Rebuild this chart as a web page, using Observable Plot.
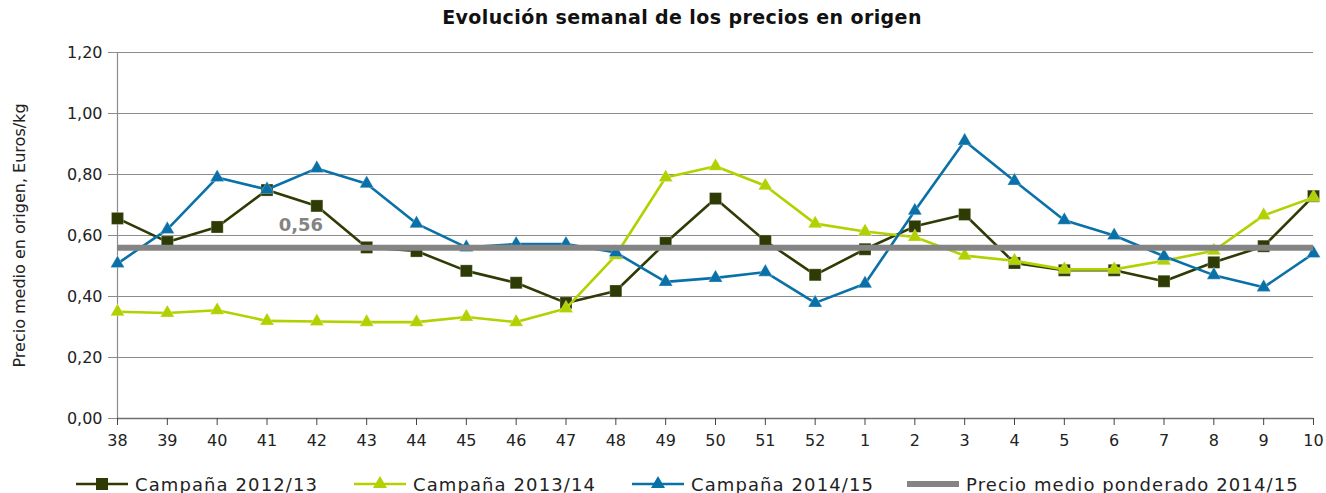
<!DOCTYPE html>
<html><head><meta charset="utf-8">
<script src="https://cdn.jsdelivr.net/npm/d3@7"></script>
<script src="https://cdn.jsdelivr.net/npm/@observablehq/plot@0.6"></script>
<style>
body{margin:0;background:#fff;font-family:"DejaVu Sans",sans-serif;}
#wrap{position:relative;width:1326px;height:493px;overflow:hidden;background:#fff}
#title{position:absolute;left:0;width:1364px;top:6px;text-align:center;font-weight:bold;font-size:19px;letter-spacing:0.4px;color:#111}
#chart{position:absolute;left:0;top:0}
.leg{position:absolute;top:473px;height:22px;display:flex;align-items:center;font-size:18px;letter-spacing:1.1px;color:#222;white-space:nowrap}
.leg svg{margin-right:7px}
</style></head>
<body><div id="wrap"><div id="chart"></div><div id="title">Evolución semanal de los precios en origen</div></div>
<script>
const weeks = ["38","39","40","41","42","43","44","45","46","47","48","49","50","51","52","1","2","3","4","5","6","7","8","9","10"];
const c1213 = [0.656,0.579,0.628,0.749,0.697,0.561,0.549,0.484,0.445,0.379,0.418,0.576,0.721,0.582,0.471,0.555,0.630,0.669,0.510,0.486,0.486,0.450,0.512,0.565,0.729];
const c1314 = [0.350,0.346,0.355,0.320,0.318,0.316,0.316,0.333,0.316,0.361,0.535,0.790,0.827,0.763,0.639,0.613,0.595,0.534,0.517,0.489,0.489,0.517,0.550,0.666,0.725];
const c1415 = [0.508,0.620,0.790,0.751,0.820,0.770,0.639,0.561,0.572,0.572,0.544,0.448,0.461,0.480,0.379,0.442,0.681,0.910,0.779,0.650,0.600,0.532,0.470,0.430,0.541];
const avg1415 = 0.56;
const yTicks = [0,0.2,0.4,0.6,0.8,1.0,1.2];
const seriesNames = ["Campaña 2012/13","Campaña 2013/14","Campaña 2014/15","Precio medio ponderado 2014/15"];

const colors = ["#2E3B05","#B3D100","#0A71A8","#848484"];
const symbols = ["square","triangle","triangle"];
const radii = [6.8,5.2,5.2];
const vals = [c1213,c1314,c1415];

const fmt = d => d.toFixed(2).replace(".", ",");
const W = 1326, ML = 117, MR = 13;
const idx = d3.range(weeks.length);

const marks = [
  Plot.gridY(yTicks, {stroke:"#8c8c8c", strokeOpacity:1, strokeWidth:1.2}),
  Plot.ruleX([0], {stroke:"#8c8c8c", strokeWidth:1.2}),
  Plot.ruleY([0], {stroke:"#6f6f6f", strokeWidth:1.5}),
  Plot.axisY({ticks:yTicks, tickFormat:fmt, tickSize:9, tickPadding:6, stroke:"#8c8c8c",
    label:"Precio medio en origen, Euros/kg", labelAnchor:"center", labelArrow:"none", labelOffset:104, fontSize:16}),
  Plot.axisX({ticks:idx, tickFormat:i => weeks[i], tickSize:7, tickPadding:9, stroke:"#444", label:null, fontSize:16})
];
vals.forEach((arr,i) => {
  const data = weeks.map((w,j) => ({i:j, week:w, value:arr[j]}));
  marks.push(Plot.line(data, {x:"i", y:"value", stroke:colors[i], strokeWidth:2.6}));
  marks.push(Plot.dot(data, {x:"i", y:"value", symbol:symbols[i], r:radii[i], fill:colors[i], stroke:"#ffffff", strokeOpacity:0.35, strokeWidth:0.8}));
});
marks.push(Plot.ruleY([avg1415], {stroke:colors[3], strokeWidth:6}));
marks.push(Plot.text([avg1415], {x:()=>weeks.indexOf("42"), y:d=>d, text:fmt, dx:-16, dy:-22, fill:colors[3], fontWeight:"bold", fontSize:18}));

const chart = Plot.plot({
  width:W, height:462,
  marginLeft:ML, marginRight:MR, marginTop:52, marginBottom:44,
  inset:0,
  style:{fontFamily:"DejaVu Sans, sans-serif", fontSize:"16px", color:"#222", background:"#fff"},
  x:{type:"linear", domain:[0, weeks.length-1], inset:0},
  y:{domain:[0,1.2]},
  marks
});
document.getElementById("chart").appendChild(chart);

// legend
const legX = [76, 354, 632, 907];
const wrap = document.getElementById("wrap");
seriesNames.forEach((name,i) => {
  const div = document.createElement("div");
  div.className = "leg";
  div.style.left = legX[i] + "px";
  const s = d3.create("svg").attr("width", 52).attr("height", 20);
  if (i < 3) {
    s.append("line").attr("x1",0).attr("x2",52).attr("y1",10).attr("y2",10).attr("stroke",colors[i]).attr("stroke-width",2.6);
    const sym = symbols[i] === "square" ? d3.symbolSquare : d3.symbolTriangle;
    s.append("path").attr("transform","translate(26,10)").attr("d", d3.symbol(sym, Math.PI*radii[i]*radii[i])()).attr("fill",colors[i]);
  } else {
    s.append("line").attr("x1",0).attr("x2",52).attr("y1",10).attr("y2",10).attr("stroke",colors[i]).attr("stroke-width",6);
  }
  div.appendChild(s.node());
  const t = document.createElement("span");
  t.textContent = name;
  div.appendChild(t);
  wrap.appendChild(div);
});
</script></body></html>
